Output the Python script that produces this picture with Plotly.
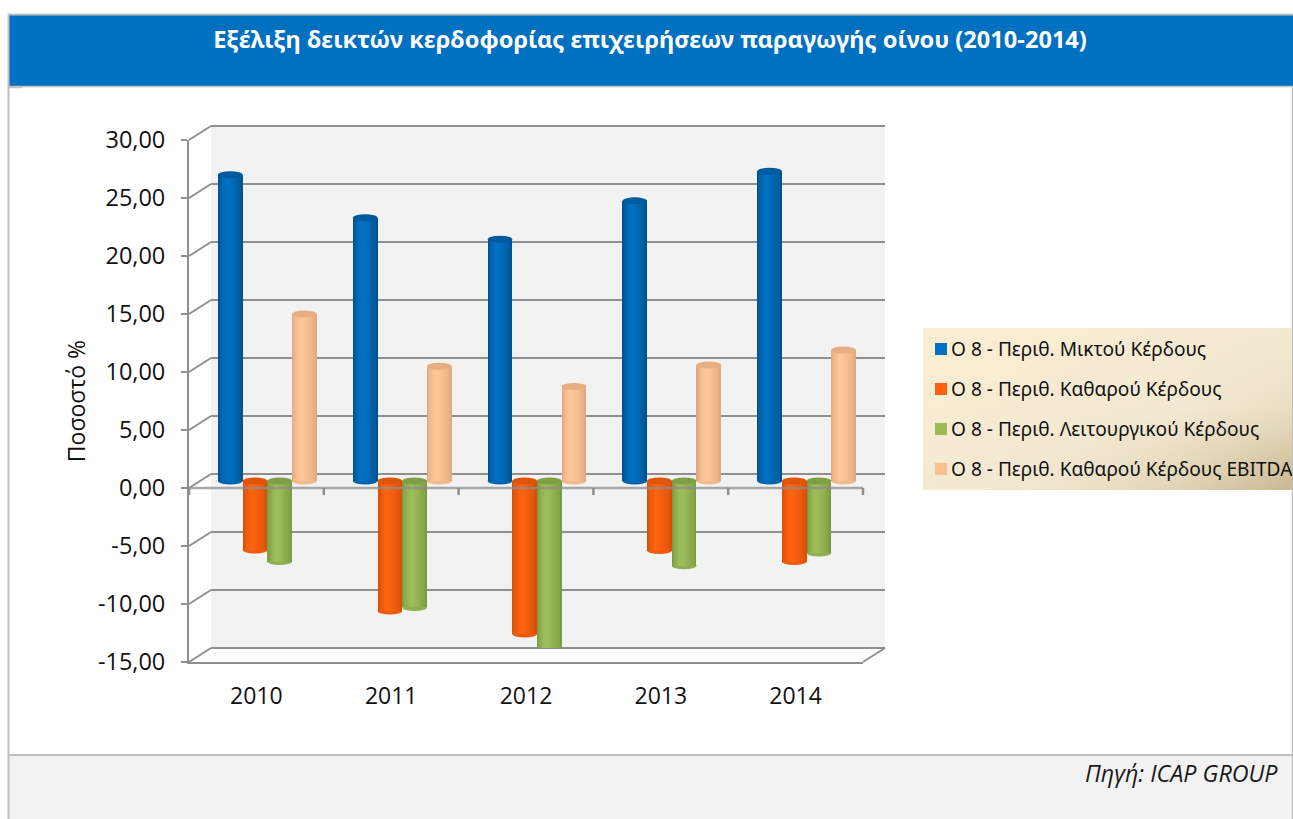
import plotly.graph_objects as go

W, H = 1293, 819
TITLE = "Εξέλιξη δεικτών κερδοφορίας επιχειρήσεων παραγωγής οίνου (2010-2014)"
SOURCE = "Πηγή: ICAP GROUP"
YTITLE = "Ποσοστό %"
years = ["2010", "2011", "2012", "2013", "2014"]
ytick_vals = [-15, -10, -5, 0, 5, 10, 15, 20, 25, 30]
ytick_text = ["-15,00", "-10,00", "-5,00", "0,00", "5,00", "10,00", "15,00", "20,00", "25,00", "30,00"]

gross = [26.4, 22.7, 20.85, 24.15, 26.7]
net = [-5.95, -11.2, -13.2, -6.0, -6.95]
operating = [-6.95, -10.9, -15.0, -7.3, -6.2]
ebitda = [14.4, 9.9, 8.15, 10.0, 11.3]

names = ["Ο 8 - Περιθ. Μικτού Κέρδους", "Ο 8 - Περιθ. Καθαρού Κέρδους",
         "Ο 8 - Περιθ. Λειτουργικού Κέρδους", "Ο 8 - Περιθ. Καθαρού Κέρδους EBITDA"]
series = [gross, net, operating, ebitda]
legend_colors = ["#0070c0", "#ff6010", "#9bbb59", "#fac090"]
# edge and centre shade of each cylinder
edge = [(0, 82, 143), (214, 80, 8), (122, 155, 64), (226, 170, 126)]
centre = [(0, 113, 196), (255, 99, 15), (157, 189, 92), (253, 199, 152)]
caps = ["#005a9e", "#e05406", "#7f9f45", "#e8ad80"]
n_layers = 8
bar_w = 0.183
grey = "#8f8f8f"

def px(x): return x / W
def py(y): return 1 - y / H
def mix(a, b, t): return "rgb(%d,%d,%d)" % tuple(round(p + (q - p) * t) for p, q in zip(a, b))

# frame geometry in pixels
FX0, FX1, FY0, FY1 = 189, 863, 140, 662     # front plane
DX, DY = 22, -14                            # depth of the box
MX, MY = 11, -7                             # bars stand half-way in the box
CLIP_Y = 648
unit = (FY1 - FY0) / 45
zero_y = FY0 + 30 * unit

fig = go.Figure()
shapes = []

def rect(x0, y0, x1, y1, fill, layer="below"):
    shapes.append(dict(type="rect", xref="paper", yref="paper", x0=px(x0), x1=px(x1), y0=py(y0), y1=py(y1),
                       fillcolor=fill, line_width=0, layer=layer))

def line(x0, y0, x1, y1, color=grey, w=2, layer="below"):
    shapes.append(dict(type="line", xref="paper", yref="paper", x0=px(x0), x1=px(x1), y0=py(y0), y1=py(y1),
                       line=dict(color=color, width=w), layer=layer))

# page furniture
rect(9, 15, W, 86, "#0070c0")
rect(9, 755, W, H, "#f2f2f2")
line(8.5, 14, 8.5, H, "#bfbfbf", 2)
line(8, 14.5, W, 14.5, "#bfbfbf", 2)
line(8, 86.5, W, 86.5, "#bfbfbf", 1.5)
line(8, 87.5, 22, 87.5, "#bfbfbf", 1.5)
line(8, 755, W, 755, "#bfbfbf", 2)
line(W - 0.5, 86, W - 0.5, H, "#bfbfbf", 1.5)

# back wall + side wall edges
rect(FX0 + DX, FY0 + DY, FX1 + DX, FY1 + DY, "#f2f2f2")
for v in ytick_vals:
    y = zero_y - v * unit
    line(FX0, y, FX0 + DX, y + DY)
line(FX1, FY1, FX1 + DX, FY1 + DY)
# first and last gridline of the back wall, which the axis leaves out at its ends
line(FX0 + DX, FY0 + DY, FX1 + DX, FY0 + DY)
line(FX0 + DX, FY1 + DY, FX1 + DX, FY1 + DY)

# back-wall gridlines (axes 1)
fig.add_trace(go.Scatter(x=[0], y=[0], xaxis="x", yaxis="y", mode="markers", marker_opacity=0,
                         showlegend=False, hoverinfo="skip"))
# front axes with labels (axes 2)
fig.add_trace(go.Scatter(x=[0], y=[0], xaxis="x2", yaxis="y2", mode="markers", marker_opacity=0,
                         showlegend=False, hoverinfo="skip"))

# cylinders (axes 3)
for j, (vals, name) in enumerate(zip(series, names)):
    xs = [i + (j - 1.5) * bar_w for i in range(len(years))]
    for k in range(n_layers):
        t = k / (n_layers - 1)
        lw = 1 - 0.85 * t
        shift = -0.12 * bar_w * t
        fig.add_trace(go.Bar(x=[x + shift for x in xs], y=vals, width=bar_w * lw, name=name,
                             marker=dict(color=mix(edge[j], centre[j], t ** 0.7), line_width=0),
                             xaxis="x3", yaxis="y3", showlegend=False))
    for x, v in zip(xs, vals):
        common = dict(type="circle", xref="x3", yref="y3", x0=x - bar_w / 2, x1=x + bar_w / 2,
                      ysizemode="pixel", y0=-3.5, y1=3.5, line_width=0)
        shapes.append(dict(common, yanchor=min(v, 0), fillcolor=mix(edge[j], centre[j], 0.6), layer="between"))
        shapes.append(dict(common, yanchor=max(v, 0), fillcolor=caps[j], layer="above"))

# legend panel gradient (axes 4)
fig.add_trace(go.Heatmap(z=[[0.22, 0.30, 0.55, 1.0], [0.12, 0.18, 0.24, 0.42], [0.0, 0.10, 0.16, 0.22]],
                         colorscale=[[0, "#fdeed3"], [0.25, "#f2e9d2"], [1, "#c9b78f"]],
                         zmin=0, zmax=1, zsmooth="best", showscale=False, xaxis="x4", yaxis="y4",
                         hoverinfo="skip"))

# front zero line with its ticks
line(FX0, zero_y, FX1, zero_y, "rgba(140,140,140,0.75)", 2.5, "above")
for i in range(len(years) + 1):
    x = FX0 + i * (FX1 - FX0) / len(years)
    line(x, zero_y, x, zero_y + 7, grey, 2.5, "above")

# legend entries
annotations = []
rows = [348.5, 388.5, 428.5, 468.5]
for name, color, y in zip(names, legend_colors, rows):
    rect(935, y - 5.5, 947, y + 6.5, color, "above")
    annotations.append(dict(text=name, xref="paper", yref="paper", x=px(949), y=py(y), xanchor="left", yanchor="middle",
                            showarrow=False, font=dict(family="Noto Sans, DejaVu Sans", size=19.1, color="#111111")))
annotations.append(dict(text="<i>" + SOURCE + "</i>", xref="paper", yref="paper", x=px(1280), y=py(773), xanchor="right",
                        yanchor="middle", showarrow=False, font=dict(family="Open Sans", size=23.3, color="#1a1a1a")))

hidden = dict(showgrid=False, zeroline=False, showline=False, showticklabels=False, ticks="", automargin=False)
fig.update_layout(
    width=W, height=H, margin=dict(l=0, r=0, t=0, b=0),
    paper_bgcolor="white", plot_bgcolor="rgba(0,0,0,0)",
    barmode="overlay", bargap=0, showlegend=False,
    title=dict(text="<b>" + TITLE + "</b>", x=px(650), y=py(40), xanchor="center", yanchor="middle",
               font=dict(family="Noto Sans", size=23.6, color="white")),
    xaxis=dict(domain=[px(FX0 + DX), px(FX1 + DX)], range=[-0.5, 4.5], anchor="y", **hidden),
    yaxis=dict(domain=[py(FY1 + DY), py(FY0 + DY)], range=[-15, 30], anchor="x", tickvals=ytick_vals, automargin=False,
               showgrid=True, gridcolor=grey, gridwidth=2, zeroline=False, showticklabels=False, ticks="", showline=False),
    xaxis2=dict(domain=[px(FX0), px(FX1)], range=[-0.5, 4.5], anchor="y2", tickvals=list(range(5)), ticktext=years,
                automargin=False, showgrid=False, zeroline=False, showline=True, linecolor=grey, linewidth=2, ticks="",
                ticklabelstandoff=12, tickfont=dict(family="Open Sans", size=23, color="#111111")),
    yaxis2=dict(domain=[py(FY1), py(FY0)], range=[-15, 30], anchor="x2", tickvals=ytick_vals, ticktext=ytick_text,
                automargin=False, showgrid=False, zeroline=False, showline=True, linecolor=grey, linewidth=2, ticks="outside",
                ticklen=6, tickwidth=2, tickcolor=grey, ticklabelstandoff=11,
                tickfont=dict(family="Open Sans", size=23.5, color="#111111"),
                title=dict(text=YTITLE, standoff=6, font=dict(family="Open Sans", size=23, color="#111111"))),
    xaxis3=dict(domain=[px(FX0 + MX), px(FX1 + MX)], range=[-0.5, 4.5], anchor="y3", **hidden),
    yaxis3=dict(domain=[py(CLIP_Y), py(FY0 + MY)], range=[30 - (CLIP_Y - FY0 - MY) / unit, 30], anchor="x3", **hidden),
    xaxis4=dict(domain=[px(923), px(1292)], range=[0, 3], anchor="y4", **hidden),
    yaxis4=dict(domain=[py(490), py(328)], range=[0, 2], anchor="x4", **hidden),
    shapes=shapes, annotations=annotations,
)
fig.write_html("out.html", config=dict(displayModeBar=False),
               post_script="document.body.style.margin='0';document.body.style.overflow='hidden';")
